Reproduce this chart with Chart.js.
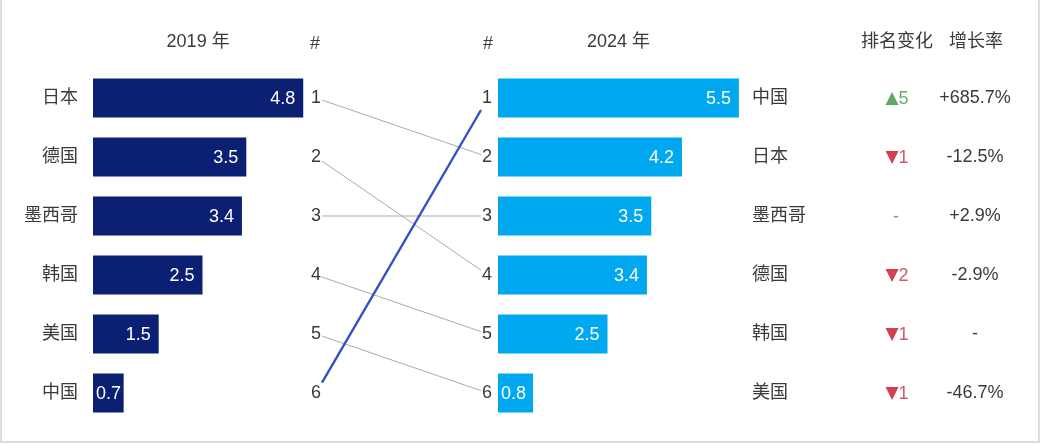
<!DOCTYPE html>
<html>
<head>
<meta charset="utf-8">
<script src="https://cdn.jsdelivr.net/npm/chart.js@4"></script>
<style>
  html, body { margin: 0; padding: 0; background: #fff; }
  #wrap { position: relative; width: 1042px; height: 444px; }
  #frame { position: absolute; left: 0; top: 0; width: 1036px; height: 441px;
           border-left: 2px solid #dcdcdc; border-right: 2px solid #dcdcdc; border-bottom: 2px solid #dcdcdc;
           pointer-events: none; }
</style>
</head>
<body>
<div id="wrap">
  <canvas id="rank-chart" width="1042" height="444"></canvas>
  <div id="frame"></div>
</div>
<script>
let ranks = ['1', '2', '3', '4', '5', '6'];
let countries2019 = ['日本', '德国', '墨西哥', '韩国', '美国', '中国'];
let values2019 = [4.8, 3.5, 3.4, 2.5, 1.5, 0.7];
let countries2024 = ['中国', '日本', '墨西哥', '德国', '韩国', '美国'];
let values2024 = [5.5, 4.2, 3.5, 3.4, 2.5, 0.8];
let rankChanges = ['▲5', '▼1', '-', '▼2', '▼1', '▼1'];
let growthRates = ['+685.7%', '-12.5%', '+2.9%', '-2.9%', '-', '-46.7%'];
let highlight = '中国';

let fontStack = '"Liberation Sans", "Noto Sans CJK SC", sans-serif';
let arrowFont = '17px "DejaVu Sans", sans-serif';
let textColor = '#3a3a3a';
let pxPerUnit = 43.8;
let leftZero = 93;
let rightZero = 498;
let chartWidth = 1042;

let rankCtx = document.getElementById('rank-chart');

// draws headers, labels, rank numbers, connecting lines and table columns
let rankPlugin = {
  id: 'rankPlugin',
  afterDatasetsDraw(chart) {
    let ctx = chart.ctx;
    let y = chart.scales.y;
    let xL = chart.scales.xL;
    let xR = chart.scales.xR;
    let rowY = (i) => y.getPixelForValue(i);
    let font = (size) => size + 'px ' + fontStack;

    ctx.save();
    ctx.textBaseline = 'middle';
    ctx.font = font(18);

    // headers
    let headerY = 42;
    ctx.fillStyle = textColor;
    ctx.textAlign = 'center';
    ctx.fillText('2019 年', xL.getPixelForValue(Math.max(...values2019) / 2), headerY);
    ctx.fillText('2024 年', xR.getPixelForValue(Math.max(...values2024) / 2), headerY);
    ctx.fillText('排名变化', 897, headerY);
    ctx.fillText('增长率', 976, headerY);
    ctx.textAlign = 'left';
    ctx.fillText('#', 310, headerY + 2);
    ctx.textAlign = 'right';
    ctx.fillText('#', 493, headerY + 2);

    // connecting lines between ranks
    let lx0 = 316, lx1 = 488;
    let clipL = 322, clipR = 481;
    let lines = countries2019.map((c, i) => ({ c: c, from: i, to: countries2024.indexOf(c) }));
    lines.sort((a, b) => (a.c === highlight) - (b.c === highlight));
    lines.forEach((ln) => {
      let y0 = rowY(ln.from), y1 = rowY(ln.to);
      let slope = (y1 - y0) / (lx1 - lx0);
      let ya = y0 + slope * (clipL - lx0);
      let yb = y0 + slope * (clipR - lx0);
      ctx.beginPath();
      ctx.moveTo(clipL, ya);
      ctx.lineTo(clipR, yb);
      if (ln.c === highlight) {
        ctx.strokeStyle = '#3352c2';
        ctx.lineWidth = 2.4;
      } else {
        ctx.strokeStyle = '#aaaaaa';
        ctx.lineWidth = 1;
      }
      ctx.stroke();
    });

    for (let i = 0; i < ranks.length; i++) {
      let cy = rowY(i);
      ctx.font = font(18);
      ctx.fillStyle = textColor;

      // country names
      ctx.textAlign = 'right';
      ctx.fillText(countries2019[i], 78, cy);
      ctx.textAlign = 'left';
      ctx.fillText(countries2024[i], 752, cy);

      // ranks
      ctx.textAlign = 'left';
      ctx.fillText(ranks[i], 311, cy);
      ctx.textAlign = 'right';
      ctx.fillText(ranks[i], 492, cy);

      // bar values
      ctx.fillStyle = '#ffffff';
      ctx.textAlign = 'left';
      [[xL, values2019[i]], [xR, values2024[i]]].forEach(([sc, v]) => {
        let s = v.toFixed(1);
        let w = ctx.measureText(s).width;
        let x0 = sc.getPixelForValue(0), x1 = sc.getPixelForValue(v);
        let tx = Math.max(x1 - 8 - w, x0 + 3);
        ctx.fillText(s, tx, cy + 1);
      });

      // rank change: arrow and digit in slightly different tones
      let rc = rankChanges[i];
      if (rc === '-') {
        ctx.textAlign = 'center';
        ctx.fillStyle = '#6aab7a';
        ctx.fillText(rc, 896, cy + 1);
      } else {
        let arrow = rc[0], num = rc.slice(1);
        let up = arrow === '▲';
        ctx.font = arrowFont;
        let wa = ctx.measureText(arrow).width;
        ctx.font = font(18);
        let wn = ctx.measureText(num).width;
        let sx = 897 - (wa + wn) / 2;
        ctx.textAlign = 'left';
        ctx.font = arrowFont;
        ctx.fillStyle = up ? '#5fa862' : '#d6404e';
        ctx.fillText(arrow, sx, cy + 1);
        ctx.font = font(18);
        ctx.fillStyle = up ? '#6aae6c' : '#c95d69';
        ctx.fillText(num, sx + wa, cy + 1);
      }

      // growth rate
      ctx.fillStyle = textColor;
      ctx.textAlign = 'center';
      ctx.fillText(growthRates[i], 975, cy);
    }
    ctx.restore();
  }
};

let rankCfg = {
  type: 'bar',
  data: {
    labels: ranks,
    datasets: [{
        label: '2019',
        data: values2019,
        xAxisID: 'xL',
        backgroundColor: '#0b1f73',
        grouped: false,
        categoryPercentage: 1,
        barPercentage: 0.66
    },
    {
        label: '2024',
        data: values2024,
        xAxisID: 'xR',
        backgroundColor: '#00a8ef',
        grouped: false,
        categoryPercentage: 1,
        barPercentage: 0.66
    }]
  },
  options: {
    indexAxis: 'y',
    responsive: false,
    animation: false,
    layout: {
        padding: { top: 68.5, bottom: 21.5, left: 0, right: 0 }
    },
    scales: {
        y: { type: 'category', display: false, offset: true },
        xL: {
            type: 'linear',
            axis: 'x',
            display: false,
            min: -leftZero / pxPerUnit,
            max: (chartWidth - leftZero) / pxPerUnit
        },
        xR: {
            type: 'linear',
            axis: 'x',
            display: false,
            min: -rightZero / pxPerUnit,
            max: (chartWidth - rightZero) / pxPerUnit
        }
    },
    plugins: {
        legend: { display: false },
        tooltip: { enabled: false }
    }
  },
  plugins: [rankPlugin]
};

let rankChart = new Chart(rankCtx, rankCfg);
</script>
</body>
</html>
